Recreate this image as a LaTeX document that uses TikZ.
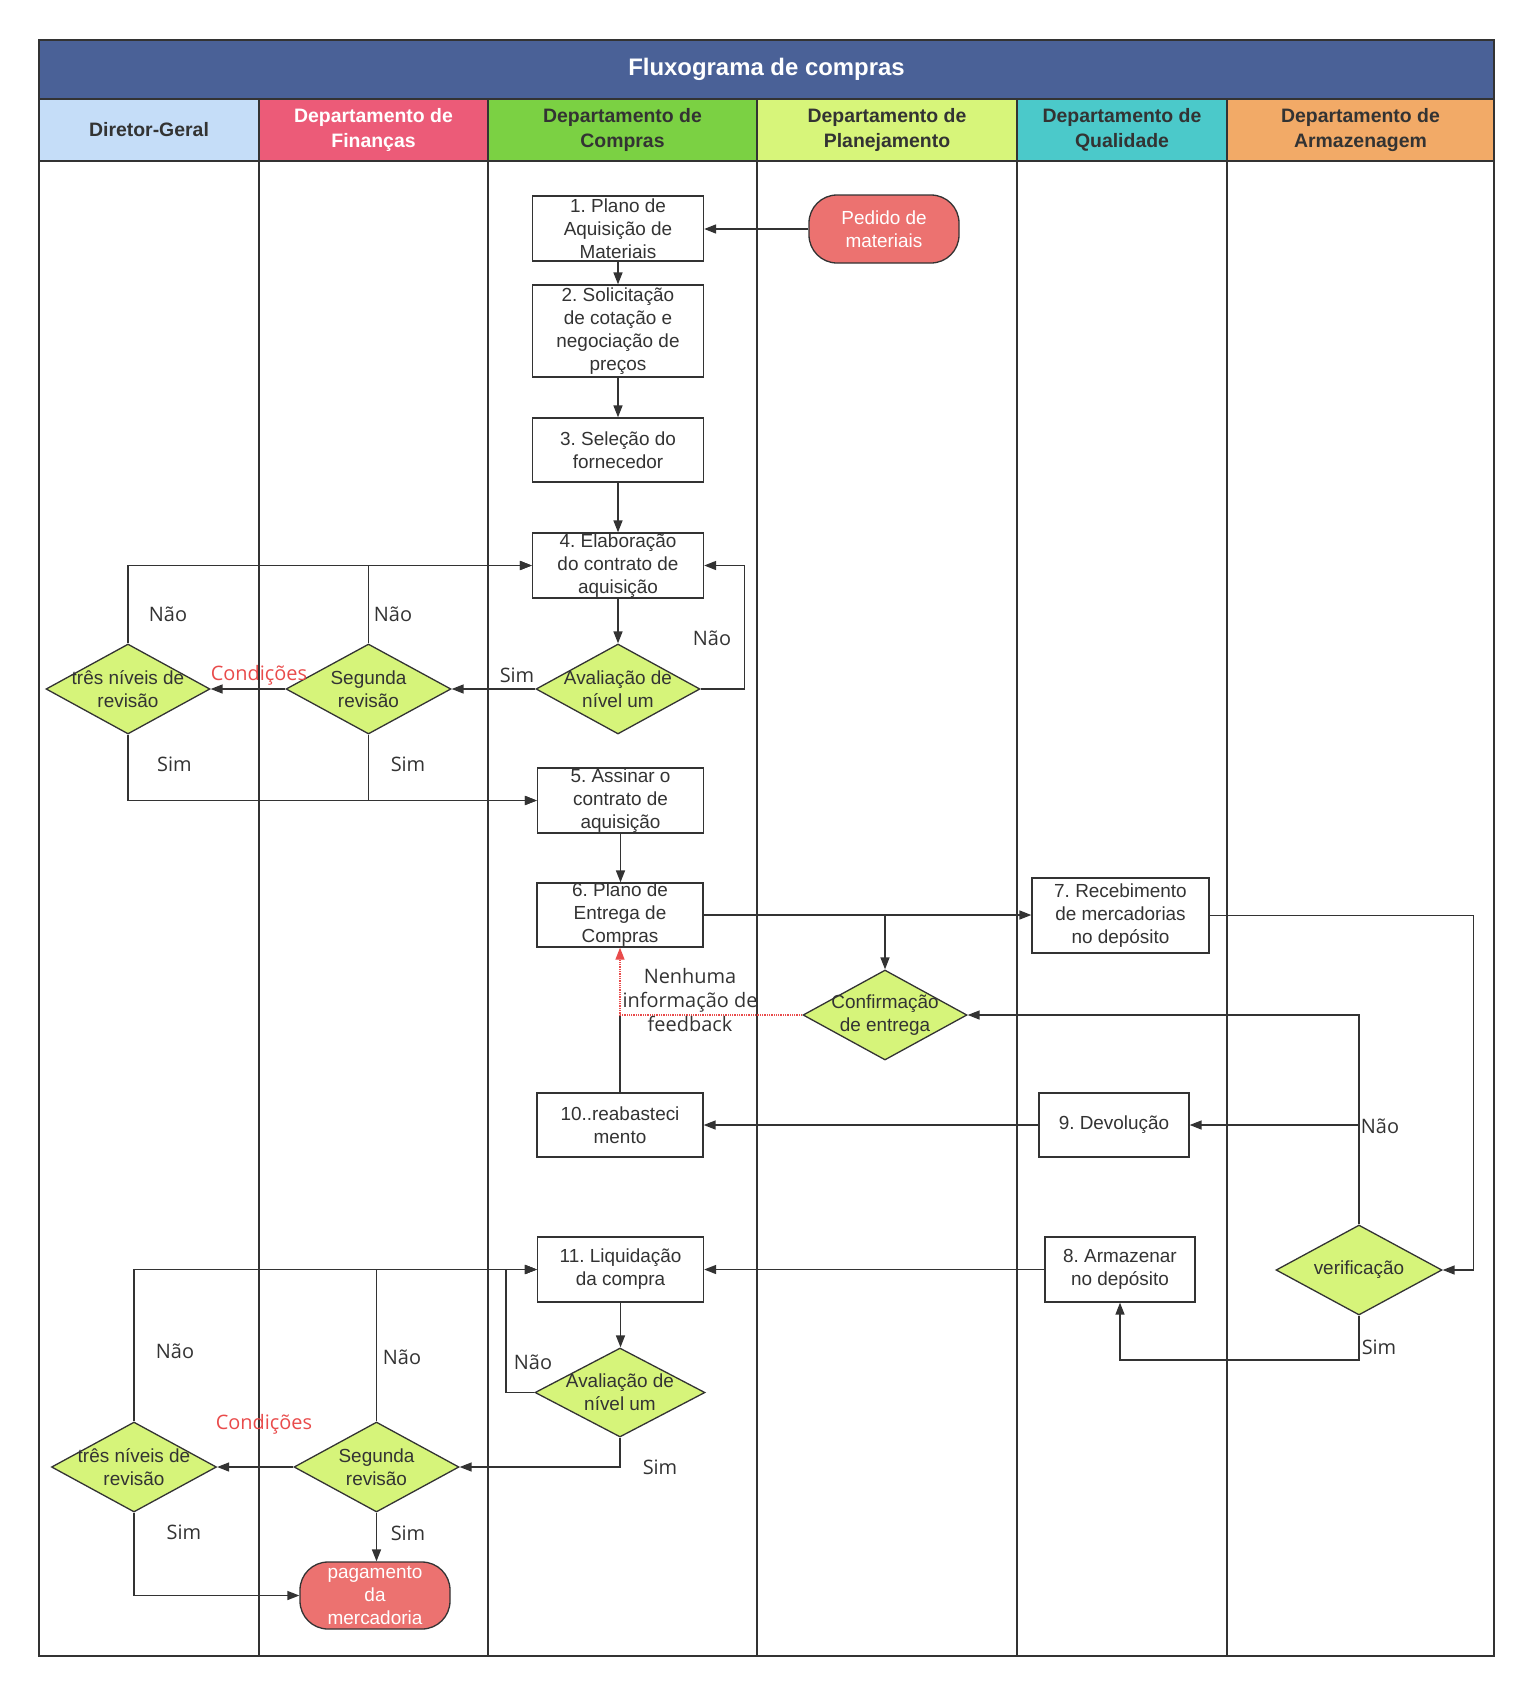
\documentclass[tikz,border=0pt]{standalone}
\usepackage{fontspec}
\setmainfont{Liberation Sans}
\newfontfamily\lblfamily{Open Sans}
\usetikzlibrary{arrows.meta,shapes.geometric}
\definecolor{titlec}{HTML}{4A6197}
\definecolor{hA}{HTML}{C5DDF8}
\definecolor{hB}{HTML}{EC5B78}
\definecolor{hC}{HTML}{7BD143}
\definecolor{hD}{HTML}{D7F57A}
\definecolor{hE}{HTML}{4BC9CA}
\definecolor{hF}{HTML}{F2AA67}
\definecolor{diac}{HTML}{D6F47A}
\definecolor{termc}{HTML}{EC7270}
\definecolor{linec}{HTML}{333333}
\definecolor{textc}{HTML}{333333}
\definecolor{redc}{HTML}{E94B4B}
\frenchspacing
\newcommand\bxfont{\fontsize{19}{23}\selectfont}
\newcommand\hdfont{\fontsize{19.5}{25}\selectfont\bfseries}
\newcommand\ttlfont{\fontsize{24}{28}\selectfont\bfseries}
\newcommand\lbfont{\lblfamily\fontsize{20}{24}\selectfont}
\begin{document}
\begin{tikzpicture}[x=1bp,y=-1bp,
  ln/.style={draw=linec, line width=1.5bp},
  arr/.style={ln, -{Triangle[length=12bp,width=9bp]}},
  fb/.style={draw=redc, line width=1.3bp, densely dotted, -{Triangle[length=12bp,width=9bp,fill=redc]}},
  lane/.style={draw=linec, line width=1.5bp},
  box/.style={draw=linec, line width=1.3bp, fill=white, text=textc, align=center, inner sep=0, font=\bxfont},
  dia/.style={diamond, draw=linec, line width=1.3bp, fill=diac, inner sep=0,
    label={[text=textc, align=center, font=\bxfont, inner sep=0]center:#1}},
  term/.style={draw=linec, line width=1.3bp, fill=termc, rounded corners=28bp, text=white, align=center, inner sep=0, font=\bxfont},
  lab/.style={text=textc, font=\lbfont, align=center, inner sep=0},
  cond/.style={text=redc, font=\lbfont, inner sep=0},
  hdr/.style={minimum height=62bp, inner sep=0, align=center, font=\hdfont, text=textc},
]
\useasboundingbox (0,0) rectangle (1530,1692);
\fill[white] (0,0) rectangle (1530,1692);

% title and headers
\node[fill=titlec, minimum width=1455bp, minimum height=59bp, inner sep=0, text=white, font=\ttlfont] (title) at (766.5,69.5) {Fluxograma de compras};
\node[hdr, fill=hA, minimum width=220bp] (hd1) at (149,130) {Diretor-Geral};
\node[hdr, fill=hB, minimum width=229bp, text=white] (hd2) at (373.5,130) {Departamento de\\Finanças};
\node[hdr, fill=hC, minimum width=269bp] (hd3) at (622.5,130) {Departamento de\\Compras};
\node[hdr, fill=hD, minimum width=260bp] (hd4) at (887,130) {Departamento de\\Planejamento};
\node[hdr, fill=hE, minimum width=210bp] (hd5) at (1122,130) {Departamento de\\Qualidade};
\node[hdr, fill=hF, minimum width=267bp] (hd6) at (1360.5,130) {Departamento de\\Armazenagem};

% lanes
\draw[lane] (39,40) rectangle (1494,1656);
\draw[lane] (39,99) -- (1494,99);
\draw[lane] (39,161) -- (1494,161);
\foreach \xx in {259,488,757,1017,1227} \draw[lane] (\xx,99) -- (\xx,1656);

% nodes
\node[term, minimum width=150bp, minimum height=68bp] (ped) at (884,229) {Pedido de\\materiais};
\node[box, minimum width=171bp, minimum height=65bp] (b1) at (618,228.5) {1. Plano de\\Aquisição de\\Materiais};
\node[box, minimum width=171bp, minimum height=92bp] (b2) at (618,331) {2. Solicitação\\de cotação e\\negociação de\\preços};
\node[box, minimum width=171bp, minimum height=64bp] (b3) at (618,450) {3. Seleção do\\fornecedor};
\node[box, minimum width=171bp, minimum height=65bp] (b4) at (618,565.5) {4. Elaboração\\do contrato de\\aquisição};
\node[dia={Avaliação de\\nível um}, minimum width=164bp, minimum height=90bp] (d1) at (618,689) {};
\node[dia={Segunda\\revisão}, minimum width=165bp, minimum height=90bp] (s1) at (368.5,689) {};
\node[dia={três níveis de\\revisão}, minimum width=164bp, minimum height=90bp] (t1) at (128,689) {};
\node[box, minimum width=166bp, minimum height=65bp] (b5) at (620.5,800.5) {5. Assinar o\\contrato de\\aquisição};
\node[box, minimum width=166bp, minimum height=64bp] (b6) at (620,915) {6. Plano de\\Entrega de\\Compras};
\node[box, minimum width=177bp, minimum height=75bp] (b7) at (1120.5,915.5) {7. Recebimento\\de mercadorias\\no depósito};
\node[dia={Confirmação\\de entrega}, minimum width=164bp, minimum height=90bp] (c) at (885,1015) {};
\node[box, minimum width=166bp, minimum height=64bp] (b10) at (620,1125) {10..reabasteci\\mento};
\node[box, minimum width=150bp, minimum height=64bp] (b9) at (1114,1125) {9. Devolução};
\node[dia={verificação}, minimum width=166bp, minimum height=90bp] (v) at (1359,1270) {};
\node[box, minimum width=150bp, minimum height=65bp] (b8) at (1120,1269.5) {8. Armazenar\\no depósito};
\node[box, minimum width=166bp, minimum height=65bp] (b11) at (620.5,1269.5) {11. Liquidação\\da compra};
\node[dia={Avaliação de\\nível um}, minimum width=170bp, minimum height=89bp] (d2) at (620,1392.5) {};
\node[dia={Segunda\\revisão}, minimum width=165bp, minimum height=90bp] (s2) at (376.5,1467) {};
\node[dia={três níveis de\\revisão}, minimum width=165bp, minimum height=90bp] (t2) at (134,1467) {};
\node[term, minimum width=150bp, minimum height=67bp] (pay) at (375,1595.5) {pagamento\\da\\mercadoria};

% connectors (upper part)
\draw[arr] (ped.west) -- (ped.west -| b1.east);
\draw[arr] (b1) -- (b2);
\draw[arr] (b2) -- (b3);
\draw[arr] (b3) -- (b4);
\draw[arr] (b4) -- (d1);
\draw[arr] (d1.west) -- (s1.east);
\draw[arr] (s1.west) -- (t1.east);
\draw[arr] (t1.north) |- (b4.west);
\draw[arr] (s1.north) |- (b4.west);
\draw[arr] (d1.east) -- ++(44,0) |- (b4.east);
\draw[arr] (t1.south) |- (b5.west);
\draw[arr] (s1.south) |- (b5.west);
\draw[arr] (b5.south) -- (b5.south |- b6.north);
\draw[arr] (b6.east) -- (b6.east -| b7.west);
\draw[arr] (b6.east) -| (c.north);
\draw[arr] (b7.east) -- ++(264,0) |- (v.east);
\draw[arr] (v.north) |- (c.east);
\draw[arr] (v.north) |- (b9.east);
\draw[arr] (b9.west) -- (b9.west -| b10.east);
\draw[ln] (b10.north) -- (b10.north |- c.west);
\draw[fb] (c.west) -| (b6.south);
\draw[arr] (v.south) -- ++(0,44.5) -| (b8.south);
\draw[arr] (b8.west) -- (b8.west -| b11.east);
% lower part
\draw[arr] (b11.south) -- (b11.south |- d2.north);
\draw[arr] (d2.west) -- ++(-28.5,0) |- (b11.west);
\draw[arr] (d2.south) |- (s2.east);
\draw[arr] (s2.west) -- (t2.east);
\draw[arr] (t2.north) |- (b11.west);
\draw[arr] (s2.north) |- (b11.west);
\draw[arr] (s2.south) -- (s2.south |- pay.north);
\draw[arr] (t2.south) |- (pay.west);

% labels
\node[lab] (l1) at (517,675) {Sim};
\node[cond] (l2) at (259,675) {Condições};
\node[lab] (l3) at (168,614) {Não};
\node[lab] (l4) at (393,614) {Não};
\node[lab] (l5) at (712,638) {Não};
\node[lab] (l6) at (174.5,764) {Sim};
\node[lab] (l7) at (408,764) {Sim};
\node[lab] (l8) at (690,1000) {Nenhuma\\informação de\\feedback};
\node[lab] (l9) at (1380,1126) {Não};
\node[lab] (l10) at (1379,1347) {Sim};
\node[lab] (l11) at (533,1362) {Não};
\node[lab] (l12) at (660,1467) {Sim};
\node[cond] (l13) at (264,1424) {Condições};
\node[lab] (l14) at (175,1351) {Não};
\node[lab] (l15) at (402,1357) {Não};
\node[lab] (l16) at (408,1533) {Sim};
\node[lab] (l17) at (184,1532) {Sim};
\end{tikzpicture}
\end{document}
